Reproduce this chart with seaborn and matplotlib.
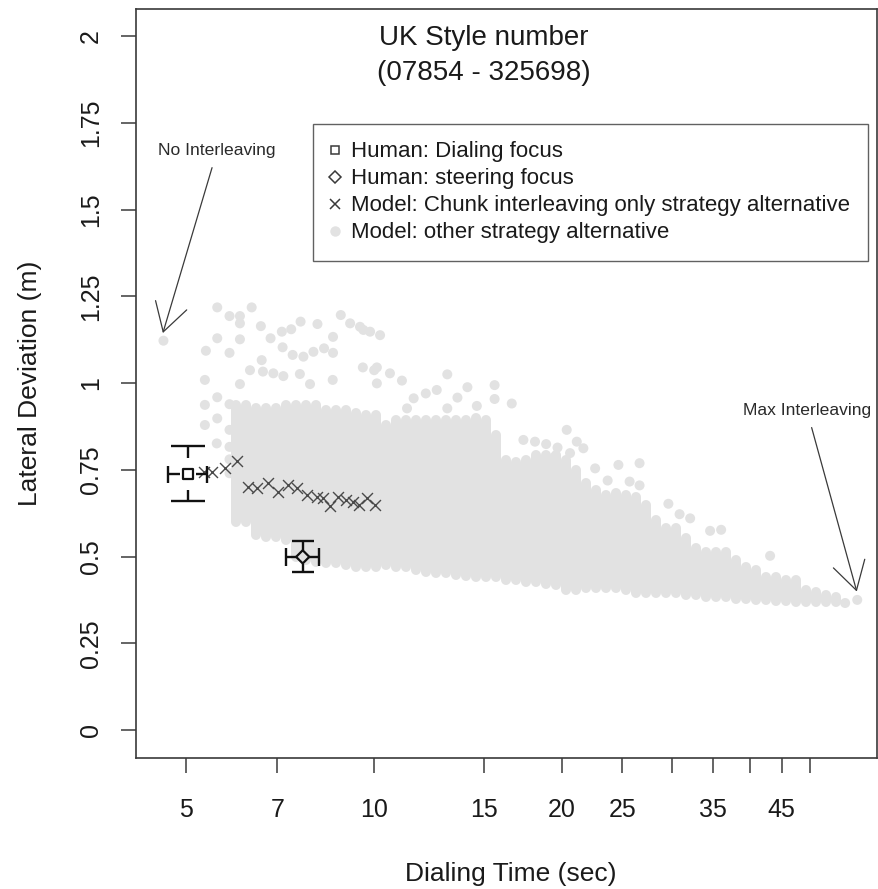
import numpy as np
import pandas as pd
import matplotlib
matplotlib.use("Agg")
import matplotlib.pyplot as plt
from matplotlib.lines import Line2D
from matplotlib.ticker import NullLocator, FixedLocator, FixedFormatter
import seaborn as sns

# ------------------------------------------------------------------ data
title_lines = ["UK Style number", "(07854 - 325698)"]
x_label = "Dialing Time (sec)"
y_label = "Lateral Deviation (m)"

x_ticks = [5, 7, 10, 15, 20, 25, 30, 35, 40, 45, 50]
x_tick_labels = ["5", "7", "10", "15", "20", "25", "", "35", "", "45", ""]
y_ticks = [0, 0.25, 0.5, 0.75, 1, 1.25, 1.5, 1.75, 2]
y_tick_labels = ["0", "0.25", "0.5", "0.75", "1", "1.25", "1.5", "1.75", "2"]

legend_labels = ["Human: Dialing focus",
                 "Human: steering focus",
                 "Model: Chunk interleaving only strategy alternative",
                 "Model: other strategy alternative"]

# dense columns of "other strategy alternative" model runs
col_time = [6.01, 6.24, 6.47, 6.72, 6.97, 7.23, 7.50, 7.79, 8.08, 8.38, 8.70,
            9.02, 9.36, 9.72, 10.08, 10.46, 10.85, 11.26, 11.68, 12.12, 12.58,
            13.05, 13.54, 14.05, 14.58, 15.13, 15.70, 16.29, 16.90, 17.53,
            18.19, 18.88, 19.59, 20.32, 21.09, 21.88, 22.70, 23.56, 24.44,
            25.36, 26.31, 27.30, 28.33, 29.39, 30.50, 31.64, 32.83, 34.07,
            35.35, 36.68, 38.06, 39.49, 40.97, 42.51, 44.11, 45.77, 47.49,
            49.27, 51.13, 53.05, 55.04]
col_dev_hi = [0.937, 0.937, 0.928, 0.928, 0.928, 0.937, 0.937, 0.937, 0.937,
              0.922, 0.922, 0.922, 0.914, 0.908, 0.908, 0.879, 0.893, 0.893,
              0.893, 0.893, 0.893, 0.893, 0.893, 0.893, 0.899, 0.893, 0.850,
              0.778, 0.772, 0.778, 0.793, 0.793, 0.793, 0.778, 0.749, 0.712,
              0.692, 0.677, 0.683, 0.677, 0.671, 0.648, 0.605, 0.582, 0.582,
              0.553, 0.524, 0.513, 0.513, 0.513, 0.490, 0.470, 0.461, 0.441,
              0.441, 0.432, 0.432, 0.403, 0.398, 0.389, 0.383]
col_dev_lo = [0.599, 0.599, 0.562, 0.556, 0.556, 0.548, 0.499, 0.490, 0.484,
              0.481, 0.481, 0.476, 0.470, 0.470, 0.470, 0.476, 0.470, 0.470,
              0.461, 0.455, 0.452, 0.452, 0.447, 0.444, 0.441, 0.441, 0.441,
              0.432, 0.432, 0.427, 0.427, 0.421, 0.418, 0.403, 0.403, 0.409,
              0.409, 0.409, 0.409, 0.403, 0.395, 0.395, 0.395, 0.395, 0.395,
              0.389, 0.389, 0.383, 0.383, 0.383, 0.378, 0.378, 0.375, 0.375,
              0.372, 0.372, 0.369, 0.369, 0.369, 0.369, 0.369]

# isolated "other strategy alternative" points
other_time = [4.60, 5.61, 5.87, 6.10, 6.37, 6.10, 6.59, 6.83, 7.12, 7.37, 7.63,
              8.12, 8.85, 9.16, 9.50, 9.86, 10.23, 8.60, 5.38, 5.61, 5.87, 6.10,
              6.61, 7.14, 7.41, 7.71, 8.00, 8.32, 8.60, 6.33, 6.64, 6.90, 7.16,
              7.61, 7.90, 8.59, 9.60, 10.01, 5.36, 5.61, 6.10, 5.36, 5.36, 5.61,
              5.87, 5.87, 5.60, 5.87, 5.87, 5.87,
              9.62, 10.11, 10.61, 11.09, 13.11, 10.11, 11.58, 12.11, 12.61,
              14.12, 15.61, 15.61, 16.63, 14.62, 13.61, 13.11, 11.30, 17.36,
              18.12, 18.88, 19.69, 20.37, 21.14, 21.66, 20.62, 19.51,
              22.62, 24.65, 26.65, 23.69, 25.69, 26.65, 29.64, 30.89, 32.12,
              34.57, 36.01, 43.14, 56.9, 59.5]
other_dev = [1.122, 1.218, 1.193, 1.193, 1.218, 1.172, 1.164, 1.129, 1.148,
             1.155, 1.177, 1.170, 1.196, 1.172, 1.162, 1.148, 1.138, 1.133,
             1.093, 1.129, 1.087, 1.126, 1.066, 1.103, 1.081, 1.076, 1.090,
             1.100, 1.087, 1.037, 1.033, 1.028, 1.020, 1.026, 0.997, 1.009,
             1.045, 1.037, 1.009, 0.959, 0.997, 0.937, 0.879, 0.898, 0.939,
             0.865, 0.826, 0.816, 0.780, 0.740,
             1.153, 1.045, 1.028, 1.007, 1.025, 0.999, 0.956, 0.970, 0.980,
             0.988, 0.994, 0.954, 0.941, 0.934, 0.958, 0.927, 0.927, 0.836,
             0.831, 0.824, 0.814, 0.865, 0.831, 0.812, 0.798, 0.788,
             0.754, 0.764, 0.769, 0.719, 0.716, 0.705, 0.652, 0.622, 0.610,
             0.574, 0.577, 0.502, 0.366, 0.375]

# chunk interleaving only strategy alternatives
chunk_time = [5.35, 5.50, 5.77, 6.03, 6.28, 6.49, 6.76, 7.01, 7.28, 7.52,
              7.81, 8.10, 8.30, 8.51, 8.77, 9.01, 9.27, 9.47, 9.74, 10.04]
chunk_dev = [0.743, 0.743, 0.754, 0.775, 0.701, 0.697, 0.711, 0.687, 0.706,
             0.697, 0.677, 0.672, 0.668, 0.646, 0.672, 0.663, 0.658, 0.648,
             0.668, 0.648]

# human data (mean and interval)
human_cond = ["Dialing focus", "steering focus"]
human_time = [5.03, 7.69]
human_time_lo = [4.67, 7.22]
human_time_hi = [5.40, 8.17]
human_dev = [0.737, 0.499]
human_dev_lo = [0.660, 0.454]
human_dev_hi = [0.819, 0.545]

# annotations: label, text position, arrow target
annot_text = ["No Interleaving", "Max Interleaving"]
annot_text_time = [5.61, 49.4]
annot_text_dev = [1.671, 0.922]
annot_tip_time = [4.59, 59.4]
annot_tip_dev = [1.144, 0.399]

# ------------------------------------------------------------------ style
sns.set_style("white")
plt.rcParams["font.family"] = ["Liberation Sans", "DejaVu Sans"]
GRAY = "#e2e2e2"
DARK = "#3a3a3a"

W, H = 879, 889
fig = plt.figure(figsize=(W / 100, H / 100), dpi=100)
L, R, B, T = 136 / W, 877 / W, 1 - 758 / H, 1 - 9 / H
ax = fig.add_axes([L, B, R - L, T - B])
ax.set_xscale("log")
XMIN, XMAX, YMIN, YMAX = 4.157, 64.0, -0.0807, 2.078
ax.set_xlim(XMIN, XMAX)
ax.set_ylim(YMIN, YMAX)

DOT_PT = 7.2  # dot diameter in points

# dense columns
col_df = pd.DataFrame({
    "col": list(range(len(col_time))) * 2,
    "time": col_time * 2,
    "dev": col_dev_lo + col_dev_hi,
})
sns.lineplot(data=col_df, x="time", y="dev", units="col", estimator=None,
             sort=False, color=GRAY, linewidth=DOT_PT, solid_capstyle="round",
             legend=False, ax=ax)

# isolated points
sns.scatterplot(x=other_time, y=other_dev, s=DOT_PT ** 2, color=GRAY,
                edgecolor="none", linewidth=0, ax=ax, zorder=2)

# chunk interleaving markers
sns.scatterplot(x=chunk_time, y=chunk_dev, marker="x", s=62, color="#4a4a4a",
                linewidth=1.0, ax=ax, zorder=4)

# human error bars with gaps around the point
ax_w_px = (R - L) * W
ax_h_px = (T - B) * H
lx = np.log(XMAX / XMIN) / ax_w_px
ly = (YMAX - YMIN) / ax_h_px
gap_x_px = [8, 6.5]
gap_y_px = [16, 7]
cap_w_px = [17, 11]
cap_h_px = [8.5, 9]
for i in range(len(human_time)):
    x, y = human_time[i], human_dev[i]
    gx, gy = np.exp(gap_x_px[i] * lx), gap_y_px[i] * ly
    cw, ch = np.exp(cap_w_px[i] * lx), cap_h_px[i] * ly
    segs = [
        ([x, x], [y + gy, human_dev_hi[i]]),
        ([x, x], [y - gy, human_dev_lo[i]]),
        ([x * gx, human_time_hi[i]], [y, y]),
        ([x / gx, human_time_lo[i]], [y, y]),
        ([x / cw, x * cw], [human_dev_hi[i]] * 2),
        ([x / cw, x * cw], [human_dev_lo[i]] * 2),
        ([human_time_lo[i]] * 2, [y - ch, y + ch]),
        ([human_time_hi[i]] * 2, [y - ch, y + ch]),
    ]
    for sx, sy in segs:
        ax.plot(sx, sy, color="#111111", lw=1.7, solid_capstyle="butt",
                zorder=5)

human_df = pd.DataFrame({"time": human_time, "dev": human_dev,
                         "cond": human_cond})
sns.scatterplot(data=human_df, x="time", y="dev", style="cond",
                markers={"Dialing focus": "s", "steering focus": "D"},
                s=[55, 45], facecolor="none", edgecolor="#111111",
                linewidth=1.6, legend=False, ax=ax, zorder=6)

# title inside plot
ax.text(15.0, 1.945, "\n".join(title_lines), ha="center", va="center",
        fontsize=20, linespacing=1.45, color="#1a1a1a")

# annotations
for i in range(len(annot_text)):
    ax.annotate(annot_text[i],
                xy=(annot_tip_time[i], annot_tip_dev[i]),
                xytext=(annot_text_time[i], annot_text_dev[i]),
                ha="center", va="center", fontsize=12.6, color="#2a2a2a",
                arrowprops=dict(arrowstyle="->,head_length=2.0,head_width=1.17",
                                mutation_scale=10, color="#3a3a3a", lw=0.9,
                                shrinkA=5, shrinkB=0))

# axes styling
for sp in ax.spines.values():
    sp.set_visible(True)
    sp.set_color(DARK)
    sp.set_linewidth(1.2)
ax.xaxis.set_major_locator(FixedLocator(x_ticks))
ax.xaxis.set_major_formatter(FixedFormatter(x_tick_labels))
ax.xaxis.set_minor_locator(NullLocator())
ax.set_yticks(y_ticks)
ax.set_yticklabels(y_tick_labels)
ax.tick_params(axis="both", which="major", direction="out", length=11,
               width=1.1, color=DARK, labelsize=18, labelcolor="#1a1a1a")
ax.tick_params(axis="x", pad=18, bottom=True)
ax.tick_params(axis="y", pad=13, left=True, labelrotation=90)
for lab in ax.get_yticklabels():
    lab.set_va("center")

ax.set_xlabel(x_label, fontsize=19, color="#1a1a1a")
ax.set_ylabel(y_label, fontsize=19, color="#1a1a1a")
ax.xaxis.set_label_coords((510.5 - 136) / ax_w_px, -0.1388)
ax.yaxis.set_label_coords(-0.127, 0.5)

# legend
handles = [
    Line2D([], [], ls="none", marker="s", markersize=6, mfc="none",
           mec=DARK, mew=1.1),
    Line2D([], [], ls="none", marker="D", markersize=6, mfc="none",
           mec=DARK, mew=1.1),
    Line2D([], [], ls="none", marker="x", markersize=7, mec=DARK, mew=1.1),
    Line2D([], [], ls="none", marker="o", markersize=7.5, mfc=GRAY,
           mec="none"),
]
leg = ax.legend(handles, legend_labels, loc="upper left",
                bbox_to_anchor=(313 / W, 1 - 124 / H),
                bbox_transform=fig.transFigure, frameon=True, fancybox=False,
                edgecolor=DARK, fontsize=16, borderpad=0.78, handlelength=0.4,
                handletextpad=0.55, labelspacing=0.27, borderaxespad=0)
leg.get_frame().set_linewidth(1.0)
for t in leg.get_texts():
    t.set_color("#1a1a1a")

fig.savefig("out.png", dpi=100)
